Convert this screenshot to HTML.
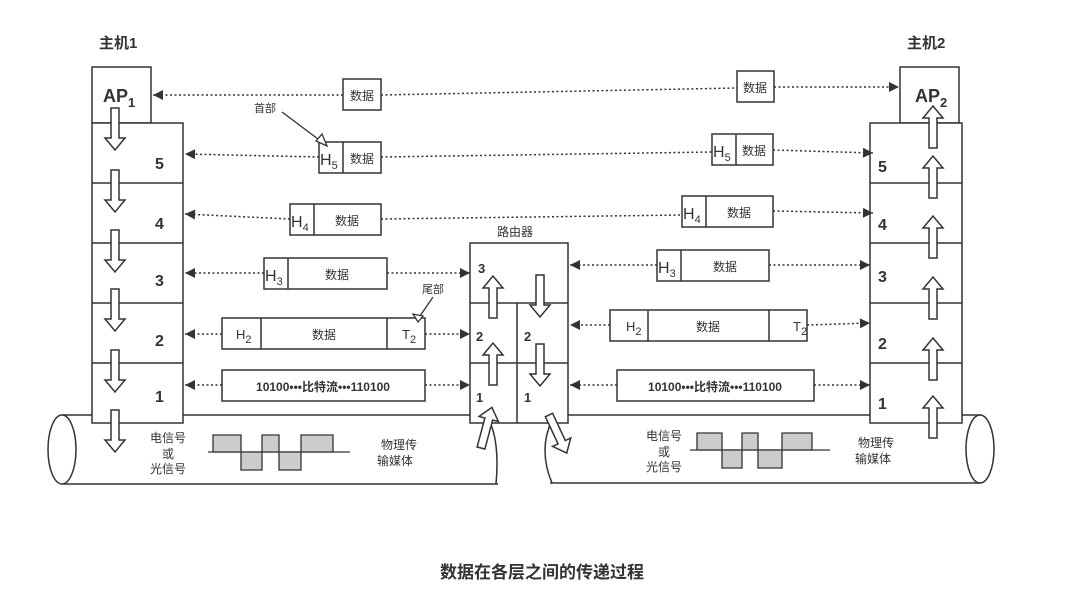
<!DOCTYPE html>
<html><head><meta charset="utf-8"><style>
html,body{margin:0;padding:0;background:#fff;}
svg{display:block;font-family:"Liberation Sans","Noto Sans CJK SC",sans-serif;}
</style></head><body>
<svg width="1080" height="615" viewBox="0 0 1080 615" xmlns="http://www.w3.org/2000/svg">
<defs>
<marker id="ah" viewBox="0 0 10 10" refX="10" refY="5" markerWidth="12" markerHeight="10" markerUnits="userSpaceOnUse" orient="auto"><path d="M0,0 L10,5 L0,10 z" fill="#333"/></marker>
<polygon id="barr" points="-4,0 4,0 4,-30 10,-30 0,-42 -10,-30 -4,-30" fill="#fff" stroke="#333" stroke-width="1.5"/>
</defs>
<g stroke="#333" stroke-width="1.5" fill="none">
<!-- left cylinder -->
<path d="M62,415 L470,415 M62,484 L498,484"/>
<ellipse cx="62" cy="449.5" rx="14" ry="34.5" fill="#fff"/>
<path d="M488,418 Q500,440 496,484"/>
<!-- right cylinder -->
<path d="M568,415 L980,415 M550,483 L980,483"/>
<path d="M552,420 Q538,450 552,483"/>
<ellipse cx="980" cy="449" rx="14" ry="34"/>
</g>
<g stroke="#333" stroke-width="1.5" fill="#fff">
<!-- host1 -->
<rect x="92" y="67" width="59" height="56"/>
<rect x="92" y="123" width="91" height="300"/>
<path d="M92,183H183M92,243H183M92,303H183M92,363H183" fill="none"/>
<!-- host2 -->
<rect x="900" y="67" width="59" height="56"/>
<rect x="870" y="123" width="92" height="300"/>
<path d="M870,183H962M870,243H962M870,303H962M870,363H962" fill="none"/>
<!-- router -->
<rect x="470" y="243" width="98" height="180"/>
<path d="M470,303H568M470,363H568M517,303V423" fill="none"/>
</g>
<!-- block arrows -->
<g>
<use href="#barr" transform="translate(115,108) rotate(180)"/>
<use href="#barr" transform="translate(115,170) rotate(180)"/>
<use href="#barr" transform="translate(115,230) rotate(180)"/>
<use href="#barr" transform="translate(115,289) rotate(180)"/>
<use href="#barr" transform="translate(115,350) rotate(180)"/>
<use href="#barr" transform="translate(115,410) rotate(180)"/>
<use href="#barr" transform="translate(933,148)"/>
<use href="#barr" transform="translate(933,198)"/>
<use href="#barr" transform="translate(933,258)"/>
<use href="#barr" transform="translate(933,319)"/>
<use href="#barr" transform="translate(933,380)"/>
<use href="#barr" transform="translate(933,438)"/>
<use href="#barr" transform="translate(493,318)"/>
<use href="#barr" transform="translate(493,385)"/>
<use href="#barr" transform="translate(540,275) rotate(180)"/>
<use href="#barr" transform="translate(540,344) rotate(180)"/>
<use href="#barr" transform="translate(481,448) rotate(15)"/>
<use href="#barr" transform="translate(549,415) rotate(155)"/>
</g>
<!-- dotted connectors -->
<g stroke="#333" stroke-width="1.5" stroke-dasharray="2,2.5" fill="none">
<path d="M343,95 L153,95" marker-end="url(#ah)"/>
<path d="M381,95 L737,88"/>
<path d="M774,87 L899,87" marker-end="url(#ah)"/>
<path d="M319,157 L185,154" marker-end="url(#ah)"/>
<path d="M381,157 L712,152"/>
<path d="M773,150 L873,153" marker-end="url(#ah)"/>
<path d="M290,219 L185,214" marker-end="url(#ah)"/>
<path d="M381,219 L682,215"/>
<path d="M773,211 L873,213" marker-end="url(#ah)"/>
<path d="M264,273 L185,273" marker-end="url(#ah)"/>
<path d="M387,273 L470,273" marker-end="url(#ah)"/>
<path d="M657,265 L570,265" marker-end="url(#ah)"/>
<path d="M769,265 L870,265" marker-end="url(#ah)"/>
<path d="M222,334 L185,334" marker-end="url(#ah)"/>
<path d="M425,334 L470,334" marker-end="url(#ah)"/>
<path d="M610,325 L570,325" marker-end="url(#ah)"/>
<path d="M807,325 L870,323" marker-end="url(#ah)"/>
<path d="M222,385 L185,385" marker-end="url(#ah)"/>
<path d="M425,385 L470,385" marker-end="url(#ah)"/>
<path d="M617,385 L570,385" marker-end="url(#ah)"/>
<path d="M814,385 L870,385" marker-end="url(#ah)"/>
</g>
<!-- packet boxes -->
<g stroke="#333" stroke-width="1.5" fill="#fff">
<rect x="343" y="79" width="38" height="31"/>
<rect x="737" y="71" width="37" height="31"/>
<rect x="319" y="142" width="62" height="31"/><path d="M343,142V173"/>
<rect x="712" y="134" width="61" height="31"/><path d="M736,134V165"/>
<rect x="290" y="204" width="91" height="31"/><path d="M314,204V235"/>
<rect x="682" y="196" width="91" height="31"/><path d="M706,196V227"/>
<rect x="264" y="258" width="123" height="31"/><path d="M288,258V289"/>
<rect x="657" y="250" width="112" height="31"/><path d="M681,250V281"/>
<rect x="222" y="318" width="203" height="31"/><path d="M261,318V349M387,318V349"/>
<rect x="610" y="310" width="197" height="31"/><path d="M648,310V341M769,310V341"/>
<rect x="222" y="370" width="203" height="31"/>
<rect x="617" y="370" width="197" height="31"/>
</g>
<!-- callout arrows -->
<g stroke="#333" stroke-width="1.3" fill="#fff">
<path d="M282,112 L322,142" fill="none"/>
<polygon points="327,146 316,141 322,134"/>
<path d="M433,297 L420,316" fill="none"/>
<polygon points="418,322 413,314 423,316"/>
</g>
<!-- waveforms -->
<g stroke="#333" stroke-width="1.3">
<path d="M208,452H350" fill="none"/>
<path d="M213,435H241V452H213z M262,435H279V452H262z M301,435H333V452H301z M241,452H262V470H241z M279,452H301V470H279z" fill="#ccc"/>
<path d="M690,450H830" fill="none"/>
<path d="M697,433H722V450H697z M742,433H758V450H742z M782,433H812V450H782z M722,450H742V468H722z M758,450H782V468H758z" fill="#ccc"/>
</g>
<!-- text -->
<g fill="#333" font-size="13">
<text x="99" y="48" font-size="15" font-weight="bold">主机1</text>
<text x="907" y="48" font-size="15" font-weight="bold">主机2</text>
<text x="103" y="102" font-size="18" font-weight="bold">AP<tspan font-size="13" dy="5">1</tspan></text>
<text x="915" y="102" font-size="18" font-weight="bold">AP<tspan font-size="13" dy="5">2</tspan></text>
<g font-size="16" font-weight="bold">
<text x="155" y="169">5</text><text x="155" y="229">4</text><text x="155" y="286">3</text><text x="155" y="346">2</text><text x="155" y="402">1</text>
<text x="878" y="172">5</text><text x="878" y="230">4</text><text x="878" y="282">3</text><text x="878" y="349">2</text><text x="878" y="409">1</text>
</g>
<g font-size="13" font-weight="bold">
<text x="478" y="273">3</text><text x="476" y="341">2</text><text x="524" y="341">2</text><text x="476" y="402">1</text><text x="524" y="402">1</text>
</g>
<text x="497" y="236" font-size="12">路由器</text>
<text x="254" y="112" font-size="11">首部</text>
<text x="422" y="293" font-size="11">尾部</text>
<g font-size="12" text-anchor="middle">
<text x="362" y="100">数据</text>
<text x="755" y="92">数据</text>
<text x="362" y="163">数据</text>
<text x="754" y="155">数据</text>
<text x="347" y="225">数据</text>
<text x="739" y="217">数据</text>
<text x="337" y="279">数据</text>
<text x="725" y="271">数据</text>
<text x="324" y="339">数据</text>
<text x="708" y="331">数据</text>
<text x="323" y="391" font-weight="bold">10100•••比特流•••110100</text>
<text x="715" y="391" font-weight="bold">10100•••比特流•••110100</text>
</g>
<g font-size="16">
<text x="320" y="165">H<tspan font-size="11" dy="4">5</tspan></text>
<text x="713" y="157">H<tspan font-size="11" dy="4">5</tspan></text>
<text x="291" y="227">H<tspan font-size="11" dy="4">4</tspan></text>
<text x="683" y="219">H<tspan font-size="11" dy="4">4</tspan></text>
<text x="265" y="281">H<tspan font-size="11" dy="4">3</tspan></text>
<text x="658" y="273">H<tspan font-size="11" dy="4">3</tspan></text>
</g>
<g font-size="13">
<text x="236" y="339">H<tspan font-size="11" dy="4">2</tspan></text>
<text x="402" y="339">T<tspan font-size="11" dy="4">2</tspan></text>
<text x="626" y="331">H<tspan font-size="11" dy="4">2</tspan></text>
<text x="793" y="331">T<tspan font-size="11" dy="4">2</tspan></text>
</g>
<g font-size="12" text-anchor="middle">
<text x="168" y="442">电信号</text><text x="168" y="458">或</text><text x="168" y="473">光信号</text>
<text x="399" y="449">物理传</text><text x="395" y="465">输媒体</text>
<text x="664" y="440">电信号</text><text x="664" y="456">或</text><text x="664" y="471">光信号</text>
<text x="876" y="447">物理传</text><text x="873" y="463">输媒体</text>
</g>
<text x="542" y="578" font-size="17" font-weight="bold" text-anchor="middle">数据在各层之间的传递过程</text>
</g>
</svg>
</body></html>
